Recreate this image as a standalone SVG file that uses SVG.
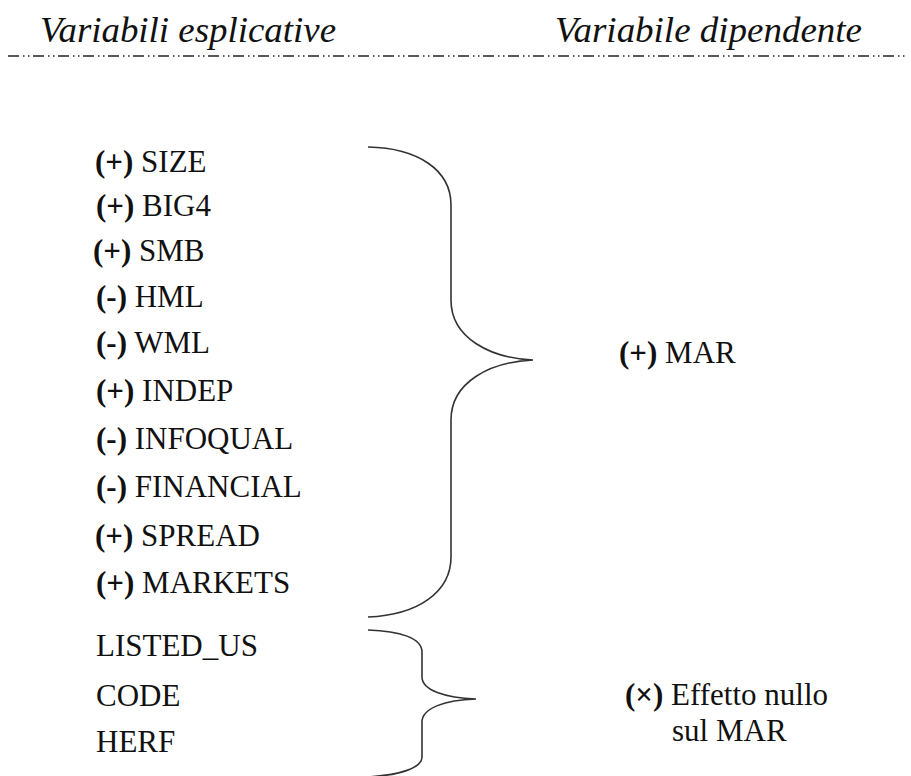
<svg xmlns="http://www.w3.org/2000/svg" width="911" height="776" viewBox="0 0 911 776">
  <style>
    .hdr { font-family: 'Liberation Serif', 'Times New Roman', serif; font-style: italic; font-size: 36px; fill: #111; }
    .lbl { font-family: 'Liberation Serif', 'Times New Roman', serif; font-size: 31px; fill: #111; }
    .sgn { font-weight: bold; }
    .brace { fill: none; stroke: #333; stroke-width: 1.6; }
    .rule { stroke: #222; stroke-width: 1.6; stroke-dasharray: 11 4 1.5 3.5 1.5 3.5; }
  </style>
  <rect width="911" height="776" fill="#ffffff"/>

  <!-- column headers -->
  <g id="header">
    <text class="hdr" x="40" y="42" textLength="296" lengthAdjust="spacingAndGlyphs">Variabili esplicative</text>
    <text class="hdr" x="555" y="42" textLength="307" lengthAdjust="spacingAndGlyphs">Variabile dipendente</text>
    <line class="rule" x1="8" y1="56" x2="906" y2="56"/>
  </g>

  <!-- explanatory variables with positive/negative effect -->
  <g id="vars-significant">
    <text class="lbl" x="95" y="172"><tspan class="sgn">(+)</tspan> SIZE</text>
    <text class="lbl" x="96" y="216"><tspan class="sgn">(+)</tspan> BIG4</text>
    <text class="lbl" x="93" y="261"><tspan class="sgn">(+)</tspan> SMB</text>
    <text class="lbl" x="96" y="307"><tspan class="sgn">(-)</tspan> HML</text>
    <text class="lbl" x="96" y="353"><tspan class="sgn">(-)</tspan> WML</text>
    <text class="lbl" x="96" y="401"><tspan class="sgn">(+)</tspan> INDEP</text>
    <text class="lbl" x="96" y="449"><tspan class="sgn">(-)</tspan> INFOQUAL</text>
    <text class="lbl" x="96" y="497"><tspan class="sgn">(-)</tspan> FINANCIAL</text>
    <text class="lbl" x="95" y="546"><tspan class="sgn">(+)</tspan> SPREAD</text>
    <text class="lbl" x="96" y="593"><tspan class="sgn">(+)</tspan> MARKETS</text>
  </g>

  <!-- explanatory variables without effect -->
  <g id="vars-null">
    <text class="lbl" x="96" y="656">LISTED_US</text>
    <text class="lbl" x="96" y="706">CODE</text>
    <text class="lbl" x="96" y="752">HERF</text>
  </g>

  <!-- grouping braces -->
  <g id="connectors">
    <path class="brace" d="M368,147 C418,148 451,170 451,205 L451,300 C451,338 490,358 533,360 C490,362 451,382 451,420 L451,557 C451,592 418,615 368,617"/>
    <path class="brace" d="M368,630 C400,631 422,638 422,652 L422,677 C422,690 445,698 476,699 C445,700 422,708 422,722 L422,757 C422,768 400,775 368,777"/>
  </g>

  <!-- dependent variable outcomes -->
  <g id="outcome-mar">
    <text class="lbl" x="619" y="363"><tspan class="sgn">(+)</tspan> MAR</text>
  </g>
  <g id="outcome-null">
    <text class="lbl" x="625" y="705"><tspan class="sgn">(×)</tspan> Effetto nullo</text>
    <text class="lbl" x="672" y="741">sul MAR</text>
  </g>
</svg>
